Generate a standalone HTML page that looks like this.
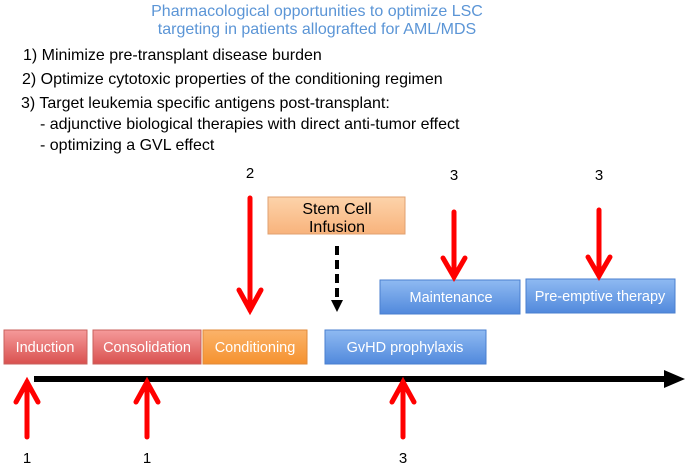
<!DOCTYPE html>
<html><head><style>body{margin:0;background:#fff}svg{display:block}</style></head><body>
<svg width="685" height="464" xmlns="http://www.w3.org/2000/svg" font-family="Liberation Sans, sans-serif">
<defs>
<linearGradient id="red" x1="0" y1="0" x2="0" y2="1"><stop offset="0" stop-color="#f59a9a"/><stop offset="1" stop-color="#d9514f"/></linearGradient>
<linearGradient id="org" x1="0" y1="0" x2="0" y2="1"><stop offset="0" stop-color="#fbb36a"/><stop offset="1" stop-color="#f5922f"/></linearGradient>
<linearGradient id="lorg" x1="0" y1="0" x2="0" y2="1"><stop offset="0" stop-color="#fdd3aa"/><stop offset="1" stop-color="#f8b37c"/></linearGradient>
<linearGradient id="blu" x1="0" y1="0" x2="0" y2="1"><stop offset="0" stop-color="#8fbaf2"/><stop offset="1" stop-color="#5189dc"/></linearGradient>
</defs>
<g font-size="16" fill="#5b95d6" text-anchor="middle">
<text x="317" y="16">Pharmacological opportunities to optimize LSC</text>
<text x="317" y="34">targeting in patients allografted for AML/MDS</text>
</g>
<g font-size="16" fill="#000">
<text x="23" y="60">1) Minimize pre-transplant disease burden</text>
<text x="22" y="84">2) Optimize cytotoxic properties of the conditioning regimen</text>
<text x="21" y="108">3) Target leukemia specific antigens post-transplant:</text>
<text x="40" y="129">- adjunctive biological therapies with direct anti-tumor effect</text>
<text x="40" y="150">- optimizing a GVL effect</text>
</g>
<g font-size="15" fill="#000" text-anchor="middle">
<text x="250" y="178">2</text><text x="454" y="180">3</text><text x="599" y="180">3</text>
<text x="27" y="463">1</text><text x="147" y="463">1</text><text x="403" y="463">3</text>
</g>
<rect x="4" y="330" width="83" height="34" fill="url(#red)" stroke="#c9605c"/>
<rect x="93" y="330" width="108" height="34" fill="url(#red)" stroke="#c9605c"/>
<rect x="203" y="330" width="104" height="34" fill="url(#org)" stroke="#e08a3a"/>
<rect x="325" y="330" width="161" height="34" fill="url(#blu)" stroke="#4a7fcf"/>
<rect x="380" y="280" width="140" height="34" fill="url(#blu)" stroke="#4a7fcf"/>
<rect x="526" y="279" width="149" height="34" fill="url(#blu)" stroke="#4a7fcf"/>
<rect x="268" y="197" width="137" height="37" fill="url(#lorg)" stroke="#e0a070"/>
<g font-size="14.5" fill="#fff" text-anchor="middle">
<text x="45" y="352">Induction</text>
<text x="147" y="352">Consolidation</text>
<text x="255" y="352">Conditioning</text>
<text x="405" y="352">GvHD prophylaxis</text>
<text x="451" y="302">Maintenance</text>
<text x="600" y="301">Pre-emptive therapy</text>
</g>
<g font-size="16" fill="#000" text-anchor="middle">
<text x="337" y="214">Stem Cell</text><text x="337" y="232">Infusion</text>
</g>
<rect x="34" y="376" width="634" height="6" fill="#000"/>
<polygon points="664,370 685,379 664,388" fill="#000"/>
<line x1="337" y1="246" x2="337" y2="300" stroke="#000" stroke-width="4" stroke-dasharray="9,5"/>
<polygon points="331,300 343,300 337,312" fill="#000"/>
<g stroke="#f00" stroke-width="5" fill="none" stroke-linecap="round">
<line x1="250" y1="198" x2="250" y2="310"/><polyline points="239,290 250,310 261,290"/>
<line x1="454" y1="212" x2="454" y2="277"/><polyline points="443,258 454,277 465,258"/>
<line x1="599" y1="210" x2="599" y2="276"/><polyline points="588,257 599,276 610,257"/>
<line x1="27" y1="437" x2="27" y2="382"/><polyline points="16,402 27,382 38,402"/>
<line x1="147" y1="437" x2="147" y2="382"/><polyline points="136,402 147,382 158,402"/>
<line x1="403" y1="437" x2="403" y2="382"/><polyline points="392,402 403,382 414,402"/>
</g>
</svg>
</body></html>
